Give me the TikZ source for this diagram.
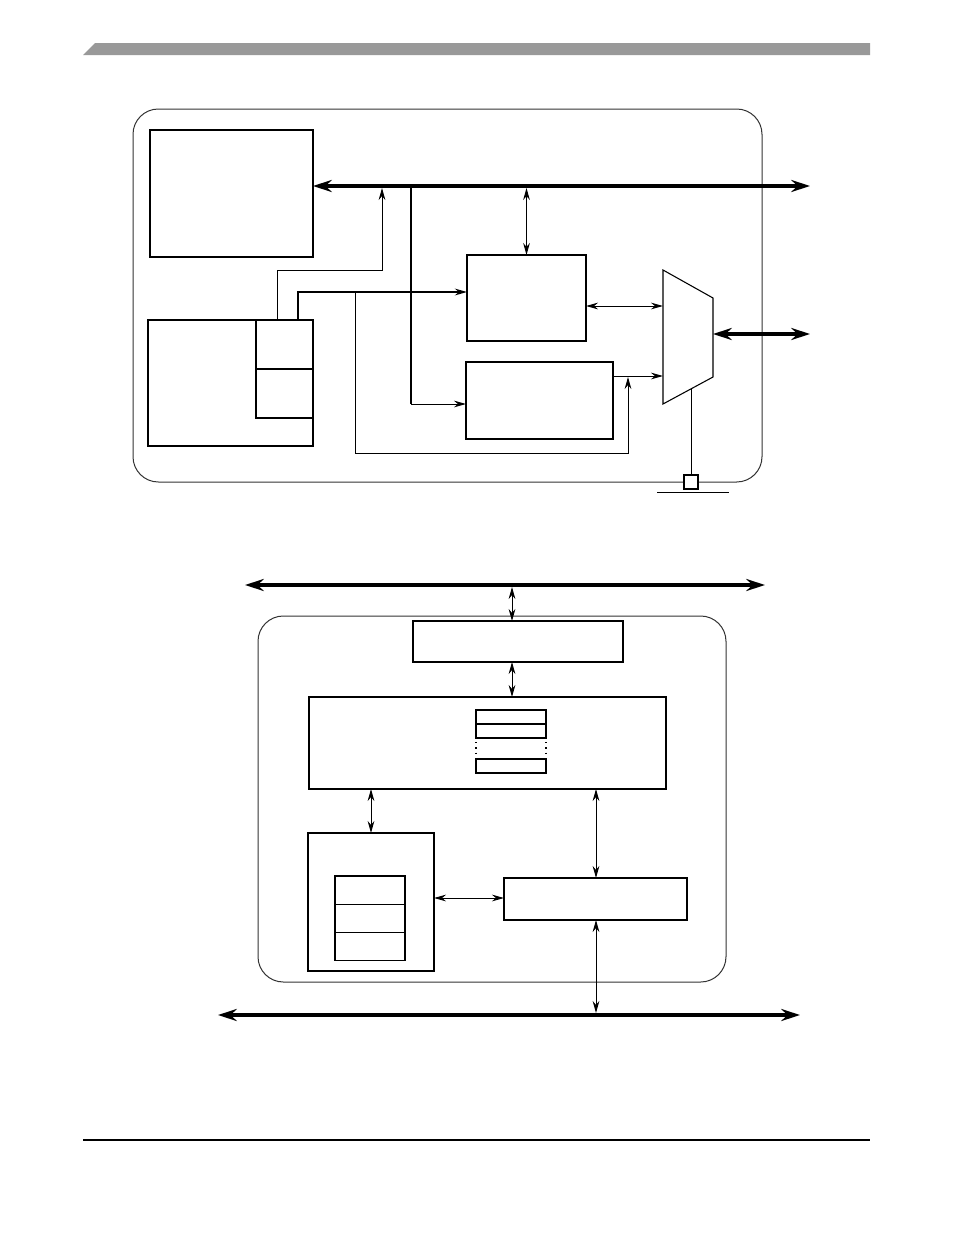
\documentclass[tikz,border=0pt]{standalone}
\usetikzlibrary{arrows.meta,fit}

\tikzset{
  blk/.style={draw, line width=1pt, inner sep=0pt, outer sep=0pt},
  link/.style={line width=0.75pt},
  bus/.style={line width=2.4pt, >={Stealth[length=14pt,width=9pt]}},
  frame/.style={draw=black!80, line width=0.75pt, rounded corners=19pt},
}

\begin{document}
\begin{tikzpicture}[x=0.75pt, y=-0.75pt, >={Stealth[length=9pt,width=5pt]}]

    \useasboundingbox (0,0) rectangle (954,1235);

    % Testata e piede
    \fill[black!40] (83,55) -- (95,43) -- (870,43) -- (870,55) -- cycle;
    \draw[line width=0.9pt] (83,1140) -- (870,1140);

    % Schema superiore
    \draw[frame] (133,109) rectangle (762,482);

    \node[blk, fit={(150,130) (313,257)}] (A) {};
    \node[blk, fit={(148,320) (313,446)}] (B) {};
    \node[blk, fit={(256,320) (313,369)}] (B1) {};
    \node[blk, fit={(256,369) (313,418)}] (B2) {};
    \node[blk, fit={(467,255) (586,341)}] (C) {};
    \node[blk, fit={(466,362) (613,439)}] (D) {};
    \node[blk, fill=white, line width=0.8pt, fit={(684,475) (698,489)}] (S) {};

    % Multiplexer
    \draw[line width=0.8pt] (663,270) -- (713,298) -- (713,377) -- (663,404) -- cycle;
    \coordinate (mux-in1) at (663,306);
    \coordinate (mux-in2) at (663,376);
    \coordinate (mux-out) at (713,334);
    \coordinate (mux-sel) at (691,389);

    % Bus
    \coordinate (busE) at (810,186);
    \draw[bus,<->] (A.east |- busE) -- (busE);
    \draw[link,<->] (C.north |- 0,188) -- (C.north);
    \draw[line width=1.8pt] (411,186) -- (411,404);
    \draw[link,->] (411,404) -- (D.west |- 0,404);

    % Collegamenti
    \draw[link,->] (B.north -| 277,0) |- (382,270) -- (382,188);
    \draw[line width=1.5pt,->] (B.north -| 298,0) |- (C.west |- 0,292);
    \draw[link,->] (355,292) |- (628,453) -- (628,377);
    \draw[link,->] (D.east |- 0,376) -- (mux-in2);
    \draw[link,<->] (C.east |- 0,306) -- (mux-in1);
    \draw[bus,<->] (mux-out) -- (810,334);
    \draw[link] (mux-sel) -- (S.north);
    \draw[link] (657,492) -- (729,492);

    % Schema inferiore
    \draw[frame] (258,616) rectangle (726,982);

    \node[blk, fit={(413,621) (623,662)}] (E) {};
    \node[blk, fit={(309,697) (666,789)}] (F) {};
    \node[blk, fit={(308,833) (434,971)}] (G) {};
    \node[blk, fit={(504,878) (687,920)}] (H) {};

    % Registri
    \node[blk, line width=0.8pt, fit={(476,710) (546,724)}] (r1) {};
    \node[blk, line width=0.8pt, fit={(476,724) (546,738)}] (r2) {};
    \node[blk, line width=0.8pt, fit={(476,759) (546,773)}] (r3) {};
    \draw[dash pattern=on 1pt off 3pt, line width=0.8pt] (r2.south west) ++(0,4) -- (r3.north west);
    \draw[dash pattern=on 1pt off 3pt, line width=0.8pt] (r2.south east) ++(0,4) -- (r3.north east);

    \foreach \i in {0,1,2}
        \node[blk, line width=0.8pt, fit={(335,{876+28.3*\i}) (405,{904.3+28.3*\i})}] (g\i) {};

    % Bus inferiori
    \draw[bus,<->] (245,585) -- (765,585);
    \draw[bus,<->] (218,1015) -- (800,1015);

    \draw[link,<->] (512,587) -- (E.north -| 512,0);
    \draw[link,<->] (E.south -| 512,0) -- (F.north -| 512,0);
    \draw[link,<->] (F.south -| 371,0) -- (G.north -| 371,0);
    \draw[link,<->] (F.south -| 596,0) -- (H.north -| 596,0);
    \draw[link,<->] (G.east |- 0,898) -- (H.west |- 0,898);
    \draw[link,<->] (H.south -| 596,0) -- (596,1013);

\end{tikzpicture}
\end{document}
